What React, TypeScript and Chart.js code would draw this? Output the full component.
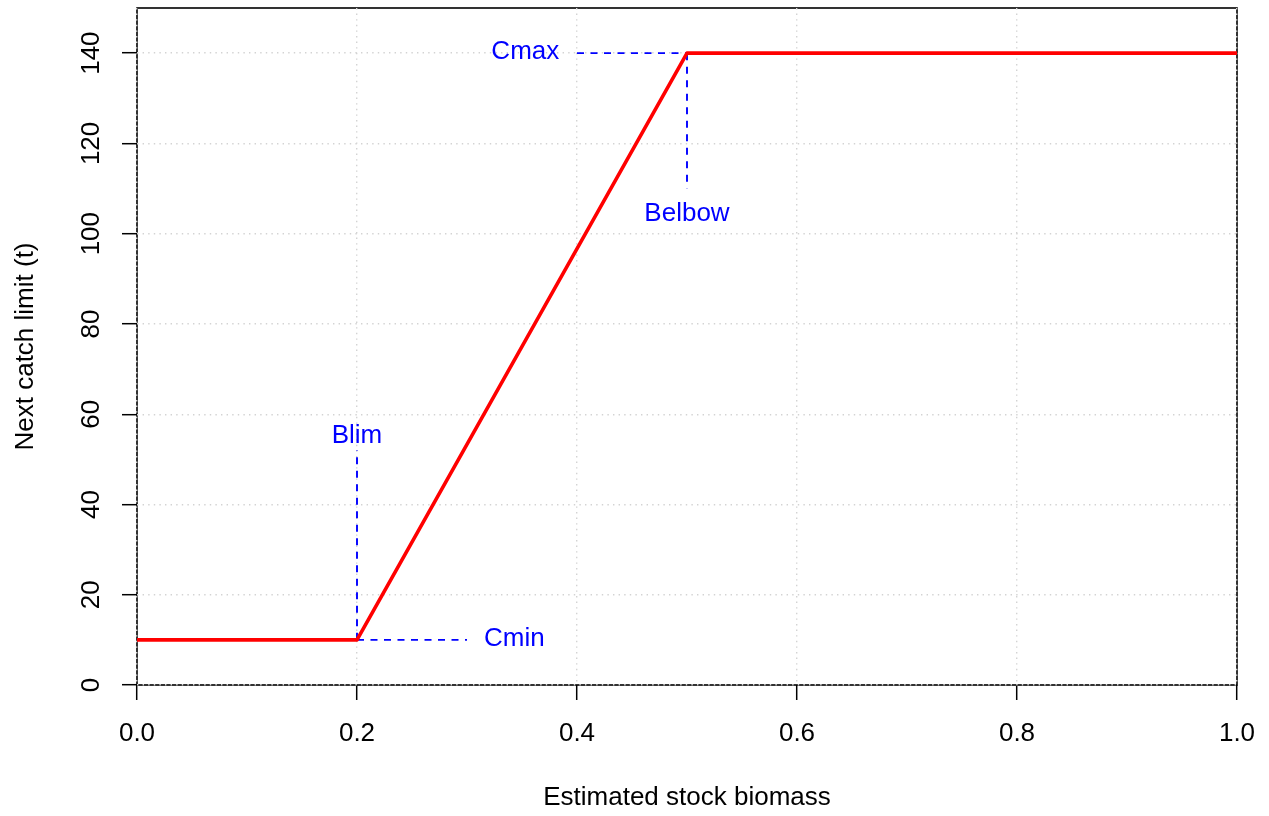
import React, { useEffect, useRef } from "react";
import { Chart, registerables } from "chart.js";

Chart.register(...registerables);

// ---- data ----
const ruleX = [0, 0.2, 0.5, 1];
const ruleY = [10, 10, 140, 140];

const blimGuideX = [0.2, 0.2];
const blimGuideY = [10, 52];
const cminGuideX = [0.2, 0.3];
const cminGuideY = [10, 10];
const cmaxGuideX = [0.4, 0.5];
const cmaxGuideY = [140, 140];
const belbowGuideX = [0.5, 0.5];
const belbowGuideY = [140, 110];

const labelTexts = ["Blim", "Cmin", "Cmax", "Belbow"];
const labelX = [0.2, 0.343, 0.353, 0.5];
const labelY = [55.7, 10.6, 140.7, 104.8];

const xTickValues = [0, 0.2, 0.4, 0.6, 0.8, 1.0];
const yTickValues = [0, 20, 40, 60, 80, 100, 120, 140];

const xTitle = "Estimated stock biomass";
const yTitle = "Next catch limit (t)";

const FONT = "'Liberation Sans', Arial, Helvetica, sans-serif";
const BLUE = "#0000ff";

const pts = (xs: number[], ys: number[]) => xs.map((x, i) => ({ x, y: ys[i] }));

const boxPlugin = {
  id: "rbox",
  beforeDraw(chart: any) {
    const { ctx, chartArea: a } = chart;
    ctx.save();
    ctx.fillStyle = "#ffffff";
    ctx.fillRect(0, 0, chart.width, chart.height);
    ctx.strokeStyle = "#000000";
    ctx.lineWidth = 1.6;
    ctx.strokeRect(a.left, a.top, a.right - a.left, a.bottom - a.top);
    ctx.restore();
  },
};

const labelPlugin = {
  id: "rlabels",
  afterDatasetsDraw(chart: any) {
    const { ctx } = chart;
    const xs = chart.scales.x;
    const ys = chart.scales.y;
    ctx.save();
    ctx.fillStyle = BLUE;
    ctx.font = `26px ${FONT}`;
    ctx.textAlign = "center";
    ctx.textBaseline = "alphabetic";
    labelTexts.forEach((t, i) => {
      const px = xs.getPixelForValue(labelX[i]);
      const py = ys.getPixelForValue(labelY[i]);
      ctx.fillText(t, px, py + 9.3);
    });
    ctx.restore();
  },
};

export default function App() {
  const ref = useRef<HTMLCanvasElement | null>(null);

  useEffect(() => {
    if (!ref.current) return;
    const guide = (xs: number[], ys: number[]) => ({
      data: pts(xs, ys),
      borderColor: BLUE,
      borderWidth: 1.9,
      borderDash: [7, 6.5],
      pointRadius: 0,
      fill: false,
      tension: 0,
    });
    const chart = new Chart(ref.current, {
      type: "line",
      data: {
        datasets: [
          {
            data: pts(ruleX, ruleY),
            borderColor: "#ff0000",
            borderWidth: 3.6,
            pointRadius: 0,
            fill: false,
            tension: 0,
            borderCapStyle: "round",
            borderJoinStyle: "round",
          } as any,
          guide(blimGuideX, blimGuideY),
          guide(cminGuideX, cminGuideY),
          guide(cmaxGuideX, cmaxGuideY),
          guide(belbowGuideX, belbowGuideY),
        ],
      },
      options: {
        animation: false,
        responsive: false,
        maintainAspectRatio: false,
        layout: { padding: { top: 8, right: 32, bottom: 0, left: 0 } },
        plugins: {
          legend: { display: false },
          tooltip: { enabled: false },
        },
        scales: {
          x: {
            type: "linear",
            min: 0,
            max: 1,
            z: 1,
            afterBuildTicks: (s: any) => {
              s.ticks = xTickValues.map((v) => ({ value: v }));
            },
            afterFit: (s: any) => {
              s.height = 131;
              s.paddingLeft = 0;
              s.paddingRight = 0;
            },
            ticks: {
              callback: (v: any) => Number(v).toFixed(1),
              font: { family: FONT, size: 26 },
              color: "#000000",
              padding: 18,
              maxRotation: 0,
              minRotation: 0,
              autoSkip: false,
            },
            grid: {
              color: "#d3d3d3",
              lineWidth: 1.4,
              tickColor: "#000000",
              tickWidth: 1.5,
              tickLength: 15,
              drawOnChartArea: true,
            },
            border: { display: false, dash: [1.4, 4.2] },
            title: {
              display: true,
              text: xTitle,
              font: { family: FONT, size: 26 },
              color: "#000000",
              padding: { top: 0, bottom: 3 },
            },
          },
          y: {
            type: "linear",
            min: 0,
            max: 150,
            z: 1,
            afterBuildTicks: (s: any) => {
              s.ticks = yTickValues.map((v) => ({ value: v }));
            },
            afterFit: (s: any) => {
              s.width = 137;
              s.paddingTop = 0;
              s.paddingBottom = 0;
            },
            ticks: {
              callback: (v: any) => String(Math.round(Number(v))),
              font: { family: FONT, size: 26 },
              color: "#000000",
              padding: 8,
              minRotation: 90,
              maxRotation: 90,
              crossAlign: "center",
              autoSkip: false,
            },
            grid: {
              color: "#d3d3d3",
              lineWidth: 1.4,
              tickColor: "#000000",
              tickWidth: 1.5,
              tickLength: 15,
              drawOnChartArea: true,
            },
            border: { display: false, dash: [1.4, 4.2] },
            title: {
              display: true,
              text: yTitle,
              font: { family: FONT, size: 26 },
              color: "#000000",
              padding: { top: 10, bottom: 0 },
            },
          },
        },
      } as any,
      plugins: [boxPlugin, labelPlugin],
    });
    return () => chart.destroy();
  }, []);

  return (
    <div style={{ position: "absolute", left: 0, top: 0, width: 1269, height: 816 }}>
      <canvas ref={ref} width={1269} height={816} style={{ display: "block" }} />
    </div>
  );
}
